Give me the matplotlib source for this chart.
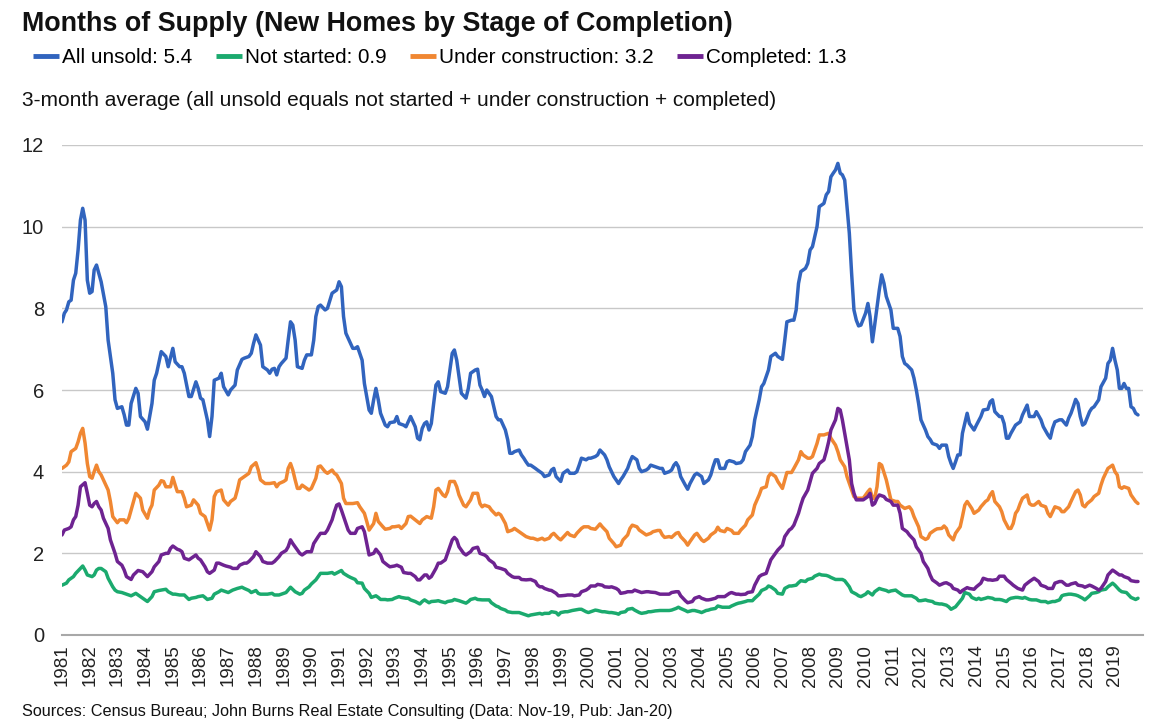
import matplotlib
matplotlib.use("Agg")
import matplotlib.pyplot as plt
import matplotlib.dates as mdates
import matplotlib.ticker as mticker
import pandas as pd
from matplotlib import font_manager

# ---------------- data (month index from Jan-1981, value) ----------------
blue_points = [
(0,7.67),(1,7.88),(2,7.96),(3,8.16),(4,8.2),(5,8.69),(6,8.86),(7,9.43),(8,10.16),(9,10.45),(10,10.16),(11,8.69),(12,8.37),(13,8.41),(14,8.94),(15,9.06),(16,8.86),(17,8.65),(19,8.04),(20,7.22),(22,6.41),(23,5.76),(24,5.55),(26,5.59),(27,5.39),(28,5.14),(29,5.14),(30,5.67),(32,6.04),(33,5.92),(34,5.35),(36,5.22),(37,5.04),(39,5.67),(40,6.24),(41,6.41),(43,6.94),(45,6.82),(46,6.57),(48,7.02),(49,6.69),(51,6.57),
(52,6.57),(53,6.41),(55,5.84),(56,5.84),(58,6.2),(59,6.04),(60,5.8),(61,5.76),(63,5.27),(64,4.86),(65,5.35),(66,6.24),(68,6.29),(69,6.41),(70,6.08),(72,5.88),(73,6.0),(75,6.12),(76,6.49),(78,6.75),(79,6.78),(81,6.82),(82,6.9),(83,7.14),(84,7.35),(86,7.1),(87,6.57),(89,6.49),(90,6.41),(91,6.51),(92,6.53),(93,6.37),(94,6.57),(95,6.65),(97,6.78),(98,7.22),(99,7.67),(100,7.59),(101,7.22),(102,6.57),
(104,6.53),(105,6.73),(106,6.86),(108,6.86),(109,7.22),(110,7.8),(111,8.04),(112,8.08),(114,7.96),(115,8.0),(117,8.37),(119,8.45),(120,8.65),(121,8.53),(122,7.8),(123,7.39),(125,7.14),(126,7.02),(127,7.02),(128,7.06),(130,6.73),(131,6.16),(133,5.51),(134,5.43),(135,5.76),(136,6.04),(137,5.76),(138,5.43),(140,5.14),(141,5.10),(142,5.2),(144,5.22),(145,5.35),(146,5.18),(148,5.14),(149,5.1),(151,5.35),(152,5.22),(153,5.1),(154,4.82),
(155,4.78),(156,5.06),(157,5.18),(158,5.22),(159,5.02),(160,5.18),(161,5.67),(162,6.12),(163,6.2),(164,5.96),(166,5.92),(167,6.08),(168,6.49),(169,6.9),(170,6.98),(171,6.73),(172,6.33),(173,5.92),(175,5.8),(176,6.04),(177,6.41),(179,6.49),(180,6.51),(181,6.12),(182,6.0),(183,5.84),(184,6.0),(185,5.92),(186,5.84),(188,5.35),(189,5.27),(190,5.27),(192,5.02),(193,4.78),(194,4.45),(195,4.45),(196,4.49),(198,4.53),(199,4.41),(200,4.33),(201,4.24),(202,4.16),(203,4.16),(205,4.08),(206,4.04),(207,4.0),
(208,3.96),(209,3.88),(211,3.92),(212,4.04),(213,4.08),(214,3.88),(216,3.76),(217,3.96),(219,4.04),(220,3.96),(222,3.96),(223,4.0),(224,4.16),(225,4.33),(227,4.29),(228,4.33),(229,4.33),(231,4.37),(232,4.41),(233,4.53),(235,4.41),(236,4.29),(237,4.12),(238,4.0),(239,3.88),(241,3.71),(242,3.8),(243,3.88),(245,4.08),(246,4.24),(247,4.37),(249,4.29),(250,4.08),(251,4.0),(253,4.04),(254,4.08),(255,4.16),(257,4.12),(259,4.08),
(260,4.08),(261,3.96),(263,4.0),(264,4.04),(265,4.16),(266,4.22),(267,4.12),(268,3.88),(270,3.67),(271,3.57),(272,3.71),(274,3.92),(275,3.96),(277,3.88),(278,3.71),(280,3.8),(281,3.92),(282,4.12),(283,4.29),(284,4.29),(285,4.08),(287,4.08),(288,4.24),(289,4.27),(291,4.24),(292,4.2),(294,4.22),(295,4.29),(296,4.49),(298,4.65),(299,4.86),(300,5.27),(302,5.76),(303,6.08),(304,6.16),(306,6.49),(307,6.82),(309,6.9),(310,6.82),
(312,6.75),(313,7.22),(314,7.67),(316,7.71),(317,7.71),(318,7.96),(319,8.61),(320,8.9),(322,8.98),(323,9.1),(324,9.43),(325,9.51),(327,10.0),(328,10.49),(330,10.57),(331,10.78),(332,10.86),(333,11.22),(334,11.31),(335,11.39),(336,11.55),(337,11.31),(338,11.27),(339,11.14),(340,10.49),(341,9.84),(342,8.86),(343,7.96),(344,7.71),(345,7.57),(346,7.59),(348,7.88),(349,8.12),(350,7.8),(351,7.18),(352,7.59),(354,8.45),(355,8.82),(356,8.61),(357,8.29),(359,7.96),(360,7.51),(362,7.51),
(363,7.31),(364,6.82),(365,6.65),(366,6.61),(368,6.49),(369,6.29),(370,6.0),(371,5.67),(372,5.27),(374,5.02),(375,4.86),(376,4.79),(377,4.69),(379,4.65),(380,4.57),(381,4.65),(383,4.65),(384,4.37),(385,4.2),(386,4.08),(387,4.24),(388,4.41),(389,4.41),(390,4.94),(392,5.43),(393,5.18),(395,5.02),(396,5.14),(398,5.35),(399,5.51),(401,5.53),(402,5.71),(403,5.76),(404,5.47),(406,5.35),(407,5.35),(408,5.18),(409,4.82),(410,4.82),(411,4.94),(413,5.14),(415,5.22),
(416,5.39),(417,5.51),(418,5.63),(419,5.35),(421,5.35),(422,5.47),(424,5.27),(425,5.1),(427,4.9),(428,4.82),(429,5.06),(430,5.22),(432,5.27),(433,5.27),(435,5.14),(436,5.31),(437,5.43),(438,5.59),(439,5.77),(440,5.67),(441,5.35),(442,5.14),(443,5.18),(445,5.47),(446,5.55),(447,5.59),(449,5.76),(450,6.08),(452,6.29),(453,6.65),(454,6.73),(455,7.02),(456,6.73),(457,6.49),(458,6.04),(459,6.04),(460,6.16),(461,6.04),(462,6.04),(463,5.59),(464,5.55),(465,5.43),(466,5.39),
]

green_points = [
(0,1.22),(2,1.27),(3,1.35),(5,1.43),(6,1.51),(8,1.63),(9,1.69),(10,1.59),(11,1.47),(13,1.43),(14,1.47),(15,1.59),(16,1.63),(17,1.63),(19,1.55),(20,1.39),(22,1.18),(23,1.1),(24,1.06),(26,1.04),(27,1.02),(29,0.98),(30,0.96),(32,1.02),(33,0.98),(35,0.9),(36,0.86),(37,0.82),(39,0.94),(40,1.06),(42,1.09),(43,1.1),(45,1.12),(46,1.06),(48,1.0),(49,1.0),(51,0.98),
(52,0.98),(53,0.98),(55,0.87),(56,0.9),(58,0.92),(59,0.94),(61,0.96),(62,0.92),(63,0.87),(65,0.9),(66,1.0),(68,1.06),(69,1.1),(71,1.06),(72,1.04),(74,1.1),(75,1.12),(76,1.14),(78,1.17),(79,1.14),(81,1.09),(82,1.04),(84,1.09),(85,1.02),(86,1.0),(88,1.0),(89,1.0),(91,1.02),(92,0.98),(94,0.98),(95,1.0),(97,1.04),(98,1.1),(99,1.17),(101,1.06),(103,1.0),
(104,1.02),(105,1.1),(107,1.18),(108,1.25),(110,1.35),(111,1.43),(112,1.51),(114,1.51),(115,1.51),(117,1.53),(118,1.49),(120,1.55),(121,1.58),(122,1.51),(124,1.44),(125,1.41),(127,1.36),(128,1.28),(130,1.27),(131,1.14),(133,1.02),(134,0.92),(136,0.96),(137,0.92),(138,0.87),(140,0.87),(141,0.86),(143,0.87),(144,0.9),(146,0.94),(147,0.92),(149,0.9),(150,0.9),(151,0.86),(153,0.82),(155,0.76),
(156,0.82),(157,0.86),(159,0.79),(160,0.82),(162,0.83),(163,0.84),(164,0.82),(166,0.79),(167,0.82),(169,0.84),(170,0.87),(172,0.84),(173,0.82),(175,0.78),(176,0.82),(177,0.87),(179,0.9),(180,0.87),(182,0.86),(183,0.86),(185,0.86),(186,0.79),(188,0.71),(189,0.69),(190,0.65),(192,0.61),(193,0.57),(195,0.55),(196,0.55),(198,0.55),(199,0.53),(201,0.49),(202,0.47),(203,0.49),(205,0.51),(207,0.53),
(208,0.51),(209,0.53),(211,0.53),(212,0.57),(214,0.55),(215,0.49),(216,0.55),(218,0.57),(219,0.57),(221,0.6),(222,0.61),(224,0.63),(225,0.63),(227,0.57),(228,0.55),(229,0.57),(231,0.61),(232,0.6),(234,0.57),(235,0.57),(237,0.55),(238,0.55),(240,0.53),(241,0.51),(242,0.55),(244,0.57),(245,0.63),(247,0.65),(248,0.61),(250,0.55),(251,0.53),(253,0.55),(254,0.57),(255,0.57),(257,0.59),(259,0.6),
(260,0.6),(261,0.6),(263,0.6),(264,0.61),(266,0.65),(267,0.68),(268,0.65),(270,0.6),(271,0.57),(273,0.6),(274,0.6),(276,0.57),(277,0.55),(279,0.6),(280,0.61),(281,0.63),(283,0.65),(284,0.71),(286,0.68),(287,0.68),(289,0.68),(290,0.71),(292,0.76),(293,0.78),(294,0.79),(296,0.82),(297,0.84),(299,0.84),(300,0.9),(302,1.0),(303,1.09),(305,1.14),(306,1.2),(307,1.18),(309,1.1),(310,1.02),
(312,1.0),(313,1.14),(315,1.2),(316,1.2),(318,1.22),(319,1.28),(320,1.33),(322,1.31),(323,1.36),(325,1.39),(326,1.44),(328,1.49),(329,1.47),(331,1.46),(332,1.44),(333,1.41),(335,1.36),(336,1.36),(338,1.36),(339,1.33),(341,1.18),(342,1.06),(344,1.0),(345,0.96),(346,0.94),(348,1.0),(349,1.06),(351,0.98),(352,1.06),(354,1.14),(355,1.12),(357,1.09),(358,1.06),(359,1.08),(361,1.1),
(362,1.06),(364,0.98),(365,0.96),(367,0.96),(368,0.96),(370,0.9),(371,0.84),(372,0.84),(374,0.86),(375,0.84),(377,0.82),(378,0.78),(380,0.76),(381,0.76),(383,0.73),(384,0.69),(385,0.63),(387,0.69),(388,0.76),(390,0.9),(391,1.04),(393,1.0),(394,0.92),(396,0.87),(397,0.9),(398,0.87),(400,0.9),(401,0.92),(403,0.9),(404,0.87),(406,0.87),(407,0.86),(409,0.82),(410,0.87),(411,0.9),(413,0.92),
(414,0.92),(416,0.9),(417,0.92),(419,0.87),(420,0.86),(422,0.86),(423,0.84),(424,0.82),(426,0.82),(427,0.79),(429,0.82),(430,0.82),(432,0.86),(433,0.96),(434,0.98),(436,1.0),(437,1.0),(439,0.98),(440,0.96),(442,0.9),(443,0.86),(445,0.96),(446,1.02),(448,1.04),(449,1.06),(450,1.1),(452,1.12),(453,1.18),(455,1.27),(456,1.22),(458,1.1),(459,1.06),(461,1.04),(462,0.98),(463,0.92),(465,0.87),(466,0.9),
]

orange_points = [
(0,4.08),(2,4.16),(3,4.24),(4,4.49),(6,4.57),(7,4.73),(8,4.94),(9,5.06),(10,4.7),(11,4.2),(12,3.88),(13,3.84),(14,4.0),(15,4.16),(16,4.0),(17,3.92),(18,3.8),(19,3.68),(20,3.55),(21,3.27),(22,2.9),(24,2.75),(25,2.82),(27,2.82),(28,2.75),(29,2.86),(31,3.27),(32,3.47),(34,3.35),(35,3.06),(37,2.86),(38,3.06),(39,3.18),(40,3.55),(42,3.67),(43,3.78),(44,3.76),(45,3.63),(47,3.63),(48,3.86),(49,3.67),(50,3.51),
(52,3.51),(53,3.35),(54,3.14),(56,3.18),(57,3.31),(59,3.18),(60,2.98),(62,2.9),(63,2.73),(64,2.57),(65,2.82),(66,3.39),(67,3.51),(69,3.55),(70,3.31),(72,3.18),(73,3.27),(75,3.35),(76,3.55),(77,3.8),(79,3.88),(81,3.96),(82,4.12),(84,4.22),(85,4.04),(86,3.8),(88,3.71),(90,3.71),(92,3.73),(93,3.63),(94,3.71),(96,3.76),(97,3.8),(98,4.08),(99,4.2),(100,4.04),(101,3.8),(102,3.59),
(103,3.59),(104,3.67),(105,3.63),(107,3.55),(108,3.59),(110,3.84),(111,4.12),(112,4.14),(114,4.0),(115,3.96),(117,4.04),(118,3.96),(119,3.92),(121,3.71),(122,3.35),(123,3.22),(125,3.22),(126,3.22),(128,3.24),(129,3.14),(131,2.98),(132,2.78),(133,2.57),(135,2.73),(136,2.98),(137,2.78),(139,2.65),(140,2.59),(142,2.61),(143,2.65),(144,2.65),(146,2.67),(147,2.61),(149,2.73),(150,2.9),(151,2.91),(153,2.82),(155,2.73),
(156,2.82),(157,2.86),(158,2.9),(160,2.86),(161,3.14),(162,3.55),(163,3.59),(165,3.43),(166,3.39),(167,3.51),(168,3.76),(170,3.76),(171,3.63),(172,3.43),(174,3.18),(175,3.14),(177,3.31),(178,3.47),(180,3.47),(181,3.22),(182,3.14),(183,3.18),(185,3.14),(186,3.06),(188,2.94),(189,2.98),(190,2.94),(192,2.73),(193,2.53),(195,2.57),(196,2.61),(198,2.53),(199,2.49),(201,2.41),(203,2.37),(204,2.37),(206,2.33),
(208,2.37),(209,2.33),(211,2.37),(212,2.45),(213,2.49),(215,2.37),(216,2.33),(218,2.45),(219,2.51),(220,2.45),(222,2.41),(223,2.49),(225,2.61),(226,2.65),(228,2.65),(229,2.61),(231,2.59),(232,2.65),(233,2.72),(234,2.65),(236,2.53),(237,2.37),(239,2.24),(240,2.16),(242,2.2),(243,2.33),(245,2.45),(246,2.61),(247,2.69),(249,2.65),(250,2.57),(252,2.49),(253,2.45),(255,2.49),(256,2.53),(258,2.56),
(259,2.56),(260,2.45),(261,2.39),(263,2.41),(264,2.39),(266,2.49),(267,2.51),(268,2.41),(270,2.29),(271,2.2),(272,2.29),(274,2.45),(275,2.49),(277,2.33),(278,2.29),(280,2.37),(281,2.45),(283,2.53),(284,2.64),(285,2.56),(287,2.53),(288,2.61),(290,2.56),(291,2.49),(293,2.49),(294,2.57),(296,2.69),(297,2.82),(299,2.94),(300,3.18),(302,3.43),(303,3.59),(305,3.63),(306,3.88),(307,3.96),(309,3.88),(310,3.76),
(312,3.59),(313,3.8),(314,3.98),(316,3.98),(317,4.08),(319,4.29),(320,4.49),(321,4.41),(323,4.33),(324,4.33),(325,4.37),(327,4.69),(328,4.9),(330,4.9),(331,4.92),(332,4.94),(333,4.82),(335,4.65),(336,4.49),(337,4.29),(339,4.12),(340,3.88),(342,3.55),(343,3.39),(344,3.35),(346,3.35),(347,3.35),(349,3.51),(350,3.57),(351,3.35),(352,3.35),(353,3.63),(354,4.2),(355,4.16),(357,3.8),(358,3.55),(359,3.31),(361,3.27),
(362,3.27),(363,3.18),(365,3.1),(367,3.14),(368,3.06),(369,2.9),(371,2.65),(372,2.41),(374,2.34),(375,2.37),(376,2.49),(378,2.57),(379,2.6),(381,2.61),(382,2.67),(383,2.61),(384,2.45),(386,2.33),(387,2.49),(389,2.65),(390,2.9),(391,3.18),(392,3.27),(394,3.1),(395,2.98),(397,3.06),(398,3.14),(400,3.27),(401,3.31),(402,3.43),(403,3.51),(404,3.27),(406,3.14),(407,3.02),(408,2.82),(410,2.61),(411,2.61),(412,2.73),(413,2.98),
(414,3.06),(415,3.22),(416,3.35),(418,3.43),(419,3.22),(420,3.18),(421,3.18),(423,3.27),(424,3.18),(426,3.14),(427,2.98),(428,2.9),(429,3.02),(430,3.14),(432,3.1),(433,3.02),(434,3.02),(436,3.14),(437,3.27),(439,3.51),(440,3.55),(441,3.43),(442,3.18),(443,3.14),(444,3.22),(446,3.31),(447,3.39),(449,3.47),(450,3.67),(451,3.84),(452,3.96),(453,4.08),(455,4.16),(456,4.0),(457,3.92),(458,3.63),(459,3.59),(460,3.63),(462,3.59),(463,3.43),(464,3.35),(465,3.27),(466,3.22),
]

purple_points = [
(0,2.45),(1,2.57),(3,2.61),(4,2.65),(5,2.82),(6,2.9),(7,3.18),(8,3.63),(10,3.73),(11,3.47),(12,3.18),(13,3.14),(14,3.22),(15,3.27),(16,3.14),(17,3.06),(18,2.86),(20,2.61),(21,2.33),(23,2.0),(24,1.8),(26,1.71),(27,1.59),(28,1.43),(30,1.36),(31,1.47),(33,1.58),(35,1.55),(36,1.49),(37,1.43),(39,1.55),(40,1.67),(42,1.8),(43,1.96),(45,2.0),(46,2.0),(47,2.12),(48,2.18),(50,2.1),(51,2.08),
(52,2.04),(53,1.88),(55,1.84),(56,1.88),(58,1.96),(59,1.88),(60,1.84),(62,1.67),(63,1.55),(64,1.51),(66,1.59),(67,1.76),(68,1.76),(70,1.71),(71,1.69),(73,1.66),(74,1.63),(76,1.63),(77,1.71),(79,1.76),(80,1.76),(81,1.8),(83,1.92),(84,2.04),(86,1.92),(87,1.8),(89,1.76),(91,1.76),(92,1.8),(94,1.92),(95,2.0),(97,2.07),(98,2.16),(99,2.33),(100,2.24),(102,2.08),(103,2.0),
(104,1.96),(105,2.0),(106,2.04),(108,2.04),(109,2.24),(111,2.41),(112,2.49),(114,2.49),(115,2.57),(117,2.82),(118,3.02),(119,3.18),(120,3.21),(121,3.06),(123,2.73),(124,2.57),(125,2.49),(127,2.49),(128,2.61),(130,2.65),(131,2.53),(132,2.24),(133,1.96),(135,2.0),(136,2.1),(138,1.96),(139,1.8),(141,1.71),(142,1.67),(144,1.69),(145,1.71),(147,1.66),(148,1.53),(150,1.51),(151,1.51),(153,1.43),(154,1.35),
(155,1.35),(156,1.41),(157,1.47),(158,1.47),(159,1.39),(160,1.43),(162,1.63),(163,1.76),(164,1.76),(166,1.84),(167,2.0),(168,2.16),(169,2.33),(170,2.39),(171,2.33),(172,2.16),(174,2.0),(175,1.96),(177,2.04),(178,2.12),(180,2.15),(181,2.0),(183,1.96),(184,1.92),(185,1.84),(187,1.76),(188,1.66),(190,1.63),(192,1.59),(193,1.51),(195,1.43),(196,1.41),(198,1.41),(199,1.36),(201,1.35),(203,1.36),(205,1.31),(206,1.22),(207,1.18),
(208,1.18),(209,1.14),(211,1.1),(212,1.09),(214,1.02),(215,0.96),(216,0.96),(218,0.97),(219,0.98),(221,0.98),(222,0.96),(224,0.98),(225,1.06),(227,1.1),(228,1.14),(229,1.2),(231,1.2),(232,1.24),(234,1.22),(235,1.18),(237,1.17),(238,1.18),(240,1.14),(241,1.1),(242,1.02),(244,1.04),(245,1.06),(247,1.06),(248,1.1),(250,1.06),(251,1.04),(253,1.06),(254,1.06),(255,1.05),(257,1.04),(259,1.0),
(260,1.0),(261,1.0),(263,1.0),(264,1.04),(266,1.06),(267,1.06),(268,0.96),(270,0.84),(271,0.79),(273,0.82),(274,0.9),(276,0.94),(277,0.9),(279,0.86),(280,0.86),(281,0.87),(283,0.9),(284,0.94),(286,0.94),(287,0.94),(289,1.02),(290,1.04),(292,1.0),(293,1.0),(294,0.99),(296,1.0),(297,1.04),(299,1.06),(300,1.22),(302,1.43),(303,1.47),(305,1.51),(306,1.67),(307,1.84),(309,2.0),(310,2.08),
(312,2.2),(313,2.41),(315,2.57),(316,2.61),(317,2.69),(319,2.98),(320,3.18),(321,3.35),(323,3.55),(324,3.76),(325,3.96),(327,4.08),(328,4.2),(330,4.29),(331,4.49),(332,4.73),(333,5.02),(335,5.27),(336,5.55),(337,5.51),(338,5.27),(339,4.94),(341,4.29),(342,3.71),(343,3.47),(344,3.31),(346,3.31),(347,3.31),(349,3.39),(350,3.47),(351,3.18),(352,3.22),(353,3.35),(354,3.43),(356,3.39),(357,3.32),(359,3.27),(360,3.18),(362,3.18),
(363,2.98),(364,2.61),(366,2.53),(367,2.45),(369,2.33),(370,2.16),(372,2.0),(373,1.8),(375,1.63),(376,1.47),(377,1.35),(379,1.27),(380,1.22),(382,1.27),(383,1.28),(385,1.22),(386,1.14),(388,1.1),(389,1.04),(390,1.09),(392,1.16),(393,1.14),(395,1.12),(396,1.18),(398,1.27),(399,1.39),(401,1.35),(402,1.35),(403,1.34),(405,1.36),(406,1.44),(408,1.44),(409,1.36),(411,1.27),(412,1.22),(414,1.14),
(416,1.1),(417,1.22),(419,1.31),(420,1.35),(421,1.39),(423,1.31),(424,1.22),(426,1.18),(427,1.14),(429,1.14),(430,1.27),(432,1.31),(433,1.31),(435,1.22),(436,1.22),(437,1.25),(439,1.28),(440,1.22),(442,1.2),(443,1.17),(445,1.22),(446,1.2),(448,1.14),(449,1.1),(450,1.14),(452,1.31),(453,1.47),(455,1.59),(456,1.55),(458,1.47),(459,1.47),(460,1.43),(462,1.39),(463,1.33),(465,1.31),(466,1.31),
]

series_names = ["All unsold", "Not started", "Under construction", "Completed"]
series_colors = ["#3164BE", "#1BAA6E", "#F08732", "#6E2391"]
tick_years = list(range(1981, 2020))

title = "Months of Supply (New Homes by Stage of Completion)"
subtitle = "3-month average (all unsold equals not started + under construction + completed)"
source = "Sources: Census Bureau; John Burns Real Estate Consulting (Data: Nov-19, Pub: Jan-20)"

# ---------------- fonts ----------------
names = {f.name for f in font_manager.fontManager.ttflist}
main_font = "Liberation Sans Narrow" if "Liberation Sans Narrow" in names else "Liberation Sans"
plt.rcParams["font.family"] = [main_font, "DejaVu Sans"]

W, H = 1168, 725
fig = plt.figure(figsize=(W / 100, H / 100), dpi=100)
ax = fig.add_axes([62 / W, 1 - 635 / H, (1143 - 62) / W, (635 - 145) / H])

month_index = pd.date_range("1981-01-01", "2019-11-01", freq="MS")

lines = []
for pts, name, col in zip([blue_points, green_points, orange_points, purple_points],
                          series_names, series_colors):
    ms = [p[0] for p in pts]
    vs = [p[1] for p in pts]
    ln, = ax.plot(month_index[ms], vs, color=col, lw=2.5, solid_joinstyle="round",
                  solid_capstyle="round", label=f"{name}: {vs[-1]:.1f}")
    lines.append(ln)

ax.set_ylim(0, 12)
ax.set_yticks(range(0, 13, 2))
ax.set_xlim(month_index[0], month_index[-1] + pd.Timedelta(days=66))
tick_pos = [mdates.date2num(pd.Timestamp(year=y, month=1, day=1)) for y in tick_years]
ax.xaxis.set_major_locator(mticker.FixedLocator(tick_pos))
ax.xaxis.set_major_formatter(mticker.FixedFormatter([str(y) for y in tick_years]))
ax.yaxis.grid(True, color="#C8C8C8", lw=1.0)
ax.set_axisbelow(True)
for s in ["top", "right", "left"]:
    ax.spines[s].set_visible(False)
ax.spines["bottom"].set_color("#A8A8A8")
ax.spines["bottom"].set_linewidth(1.5)
ax.tick_params(axis="y", length=0, pad=13, labelsize=14.5, labelcolor="#222222")
ax.tick_params(axis="x", length=0, pad=7, labelsize=13.5, labelrotation=90, labelcolor="#222222")
for lab in ax.get_xticklabels():
    lab.set_verticalalignment("top")

renderer = fig.canvas.get_renderer()

def fit_text(x, y, s, target_w, size, **kw):
    t = fig.text(x / W, 1 - y / H, s, fontsize=size, va="baseline", ha="left", **kw)
    for _ in range(3):
        w = t.get_window_extent(renderer=renderer).width
        size = size * target_w / w
        t.set_fontsize(size)
    return t

fit_text(22, 31, title, 711, 20, fontweight="bold", color="#111111")
fit_text(22, 106, subtitle, 756, 14, color="#111111")
fit_text(22, 716, source, 650, 11, color="#111111")

leg_size = 14.5
leg = fig.legend(handles=lines, loc="upper left", bbox_to_anchor=(33 / W, 1 - 48 / H),
                 ncol=4, frameon=False, fontsize=leg_size, handlelength=1.3,
                 handletextpad=0.15, columnspacing=1.15, borderpad=0, borderaxespad=0)
for _ in range(3):
    w = leg.get_window_extent(renderer=renderer).width
    leg_size *= (848 - 33) / w
    for t in leg.get_texts():
        t.set_fontsize(leg_size)
    leg.prop.set_size(leg_size)
    fig.canvas.draw()
for h in leg.legend_handles:
    h.set_linewidth(3.5)
    h.set_solid_capstyle("butt")

fig.savefig("out.png", dpi=100)
